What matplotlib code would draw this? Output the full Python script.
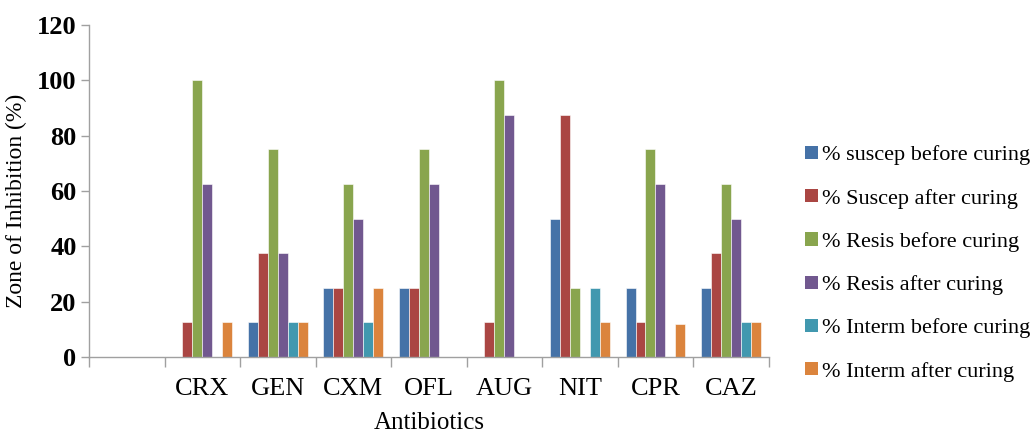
import matplotlib
matplotlib.use("Agg")
import matplotlib.pyplot as plt
import numpy as np
from matplotlib.patches import Patch

categories = ["", "CRX", "GEN", "CXM", "OFL", "AUG", "NIT", "CPR", "CAZ"]
series_names = ["% suscep before curing", "% Suscep after curing", "% Resis before curing",
                "% Resis after curing", "% Interm before curing", "% Interm after curing"]
suscep_before = [0, 0, 12.5, 25, 25, 0, 50, 25, 25]
suscep_after = [0, 12.5, 37.5, 25, 25, 12.5, 87.5, 12.5, 37.5]
resis_before = [0, 100, 75, 62.5, 75, 100, 25, 75, 62.5]
resis_after = [0, 62.5, 37.5, 50, 62.5, 87.5, 0, 62.5, 50]
interm_before = [0, 0, 12.5, 12.5, 0, 0, 25, 0, 12.5]
interm_after = [0, 12.5, 12.5, 25, 0, 0, 12.5, 12, 12.5]
colors = ["#4572A7", "#AA4643", "#89A54E", "#71588F", "#4198AF", "#DB843D"]

plt.rcParams['font.family'] = ['Liberation Serif', 'DejaVu Serif']

fig = plt.figure(figsize=(10.36, 4.32), dpi=100)
ax = fig.add_axes([0.086, 0.174, 0.656, 0.768])

data = [suscep_before, suscep_after, resis_before, resis_after, interm_before, interm_after]
x = np.arange(len(categories))
bw = 0.132
for i, (vals, c) in enumerate(zip(data, colors)):
    ax.bar(x + (i - 2.5) * bw, vals, width=bw, color=c, edgecolor='white', linewidth=0.4)

ax.set_xlim(-0.5, len(categories) - 0.5)
ax.set_ylim(0, 120)
ax.set_yticks(np.arange(0, 121, 20))
ax.set_xticks(x)
ax.set_xticklabels(categories, fontsize=19)
ax.set_xticks(np.arange(-0.5, len(categories), 1), minor=True)
ax.tick_params(axis='x', which='major', length=0, pad=15)
ax.tick_params(axis='x', which='minor', length=7, color='#A0A0A0', width=1)
ax.tick_params(axis='y', length=6, color='#A0A0A0', width=1, labelsize=19, pad=3)
for lab in ax.get_yticklabels():
    lab.set_fontweight('bold')
for s in ['top', 'right']:
    ax.spines[s].set_visible(False)
for s in ['left', 'bottom']:
    ax.spines[s].set_color('#A0A0A0')
    ax.spines[s].set_linewidth(1)

ax.set_xlabel("Antibiotics", fontsize=18)
ax.xaxis.set_label_coords(0.5, -0.165)
ax.set_ylabel("Zone of Inhibition (%)", fontsize=17)
ax.yaxis.set_label_coords(-0.092, 0.47)

handles = [Patch(facecolor=c, edgecolor='none') for c in colors]
fig.legend(handles, series_names, loc='center left', bbox_to_anchor=(0.758, 0.39),
           frameon=False, fontsize=16, handlelength=0.55, handleheight=0.55,
           handletextpad=0.2, labelspacing=1.05)

fig.savefig("out.png", dpi=100)
